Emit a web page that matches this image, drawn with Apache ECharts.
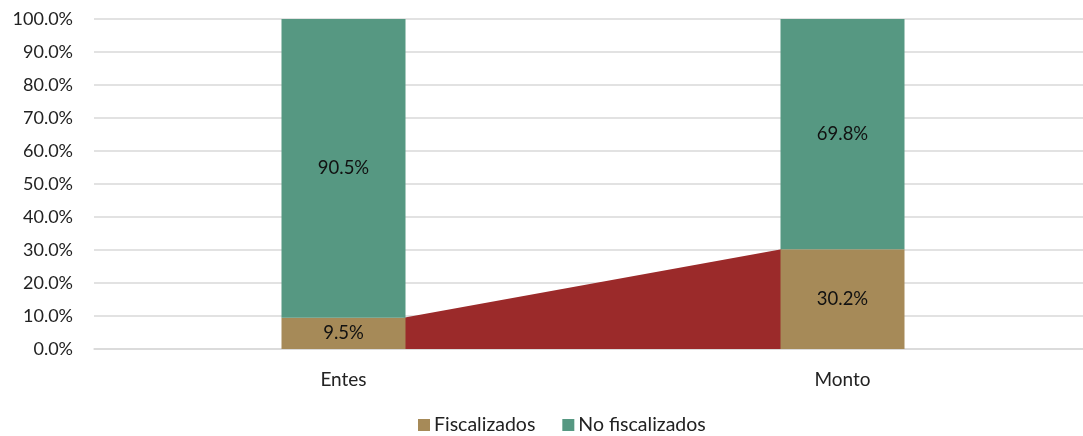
<!DOCTYPE html>
<html>
<head>
<meta charset="utf-8">
<script src="https://cdn.jsdelivr.net/npm/echarts@6/dist/echarts.min.js"></script>
<style>
  html, body { margin: 0; padding: 0; background: #fff; overflow: hidden; }
  /* el área de trazado sigue más allá del borde derecho, como en el original */
  #chart { width: 1092px; height: 436px; }
</style>
</head>
<body>
<div id="chart"></div>
<script>
// datos
const categorias = ['Entes', 'Monto'];
const fiscalizados = [9.5, 30.2];
const noFiscalizados = [90.5, 69.8];
const anchoBarra = 124;

const chart = echarts.init(document.getElementById('chart'));

const fuente = 'Lato';

chart.setOption({
  animation: false,
  textStyle: { fontFamily: fuente },
  grid: { left: 94, top: 19, right: 0, height: 330 },
  legend: {
    data: ['Fiscalizados', 'No fiscalizados'],
    top: 410,
    left: 413,
    itemWidth: 12,
    itemHeight: 12,
    itemGap: 27,
    icon: 'rect',
    textStyle: { fontFamily: fuente, fontSize: 19.5, color: '#222', padding: [0, 0, 0, -1] }
  },
  xAxis: {
    type: 'category',
    data: categorias,
    axisLine: { lineStyle: { color: '#d9d9d9', width: 1.5 } },
    axisTick: { show: false },
    axisLabel: { margin: 21, fontSize: 19, color: '#222', fontFamily: fuente }
  },
  yAxis: {
    type: 'value',
    min: 0,
    max: 100,
    interval: 10,
    axisLine: { show: false },
    axisTick: { show: false },
    splitLine: { lineStyle: { color: '#d9d9d9', width: 1.5 } },
    axisLabel: {
      margin: 21,
      fontSize: 18,
      color: '#222',
      fontFamily: fuente,
      formatter: v => v.toFixed(1) + '%'
    }
  },
  series: [
    {
      type: 'custom',
      z: 1,
      silent: true,
      data: [[0, 0]],
      renderItem: function (params, api) {
        const medio = anchoBarra / 2;
        const a = api.coord([0, fiscalizados[0]]);
        const b = api.coord([1, fiscalizados[1]]);
        const a0 = api.coord([0, 0]);
        const b0 = api.coord([1, 0]);
        return {
          type: 'polygon',
          shape: {
            points: [
              [a[0] + medio - 2, a[1]],
              [b[0] - medio + 1, b[1]],
              [b[0] - medio + 1, b0[1]],
              [a[0] + medio - 2, a0[1]]
            ]
          },
          style: { fill: '#9b2a2a' }
        };
      }
    },
    {
      name: 'Fiscalizados',
      type: 'bar',
      stack: 'total',
      z: 2,
      barWidth: anchoBarra,
      data: fiscalizados,
      itemStyle: { color: '#a68a58' },
      label: {
        show: true,
        position: 'inside',
        color: '#111',
        fontSize: 18.5,
        fontFamily: fuente,
        formatter: p => p.value.toFixed(1) + '%'
      }
    },
    {
      name: 'No fiscalizados',
      type: 'bar',
      stack: 'total',
      z: 2,
      barWidth: anchoBarra,
      data: noFiscalizados,
      itemStyle: { color: '#569882' },
      label: {
        show: true,
        position: 'inside',
        color: '#111',
        fontSize: 18.5,
        fontFamily: fuente,
        formatter: p => p.value.toFixed(1) + '%'
      }
    }
  ]
});
</script>
</body>
</html>
